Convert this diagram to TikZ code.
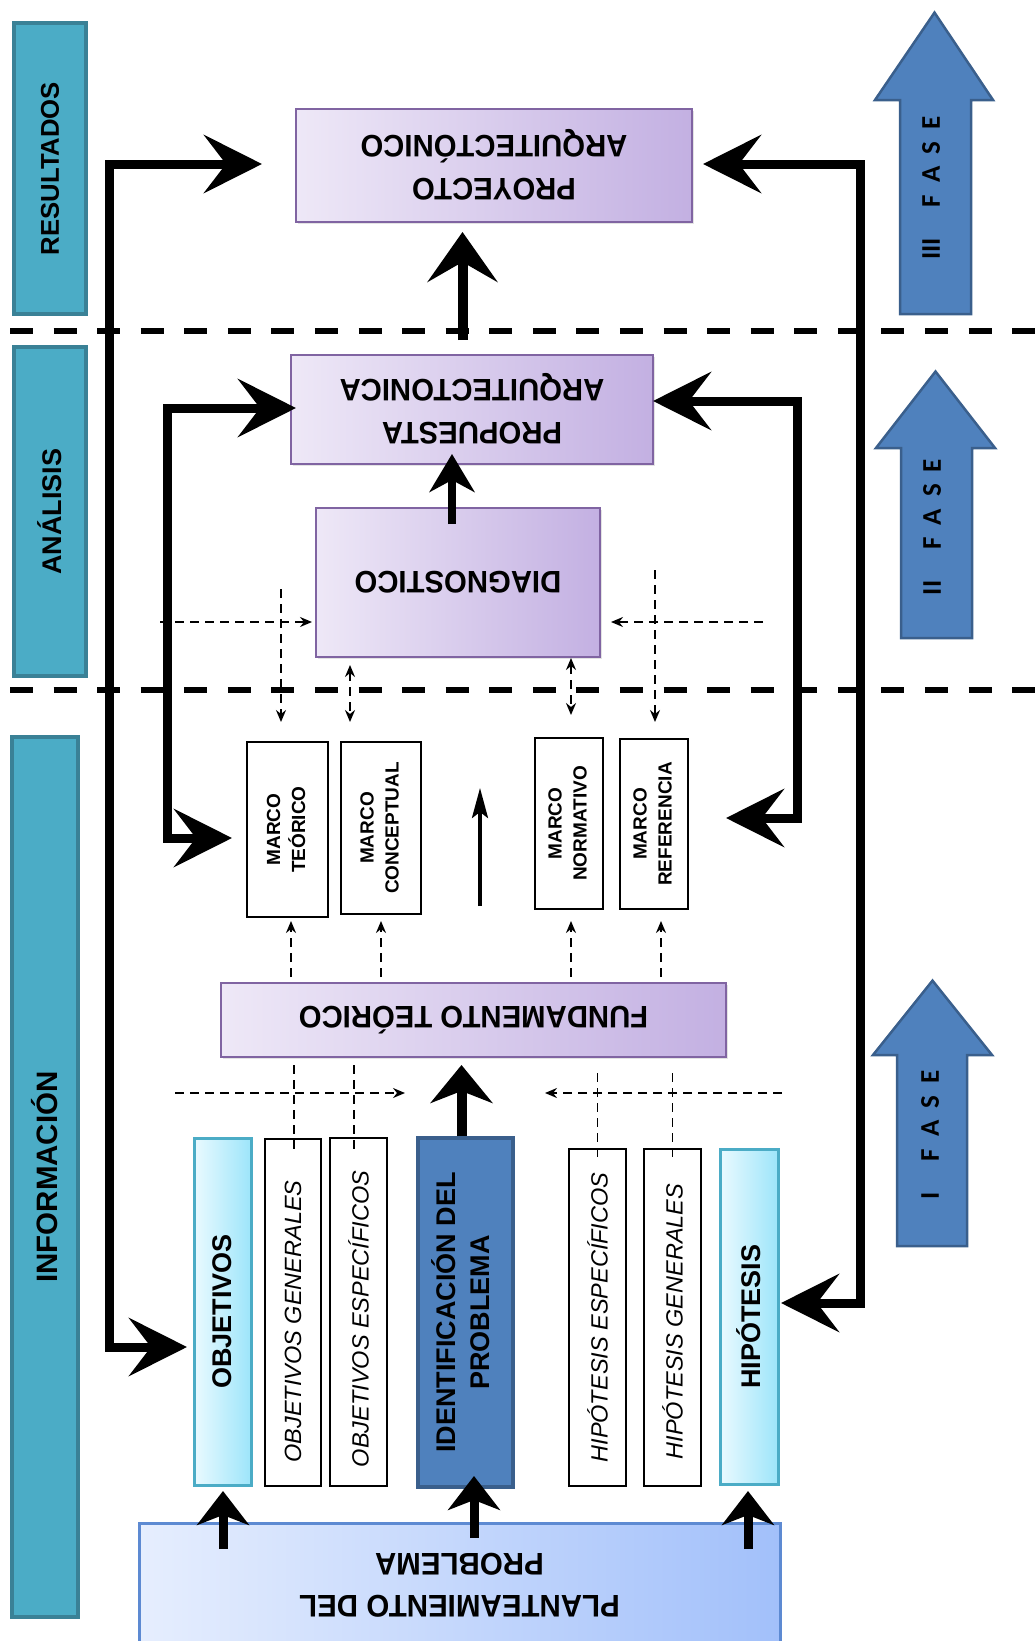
\documentclass[tikz,border=0pt]{standalone}
\usepackage{fontspec}
\setmainfont{Liberation Sans}
\newfontfamily\fasefont{Carlito}
\usetikzlibrary{arrows.meta,calc,shadows}
\definecolor{tealF}{HTML}{4BACC6}
\definecolor{tealB}{HTML}{3A8196}
\definecolor{faseF}{HTML}{4F81BD}
\definecolor{faseB}{HTML}{3A5F8C}
\definecolor{purpL}{HTML}{EEE8F7}
\definecolor{purpR}{HTML}{C3B0E2}
\definecolor{purpB}{HTML}{8064A2}
\definecolor{cyanL}{HTML}{EAFAFF}
\definecolor{cyanR}{HTML}{9DE5FA}
\definecolor{cyanB}{HTML}{4BACC6}
\definecolor{planL}{HTML}{E6EEFE}
\definecolor{planR}{HTML}{A2C0FA}
\definecolor{planB}{HTML}{5D8AD2}
\newcommand\rtwo[2]{\rotatebox{180}{\scalebox{1}[1.06]{\begin{tabular}{@{}c@{}}#1\\#2\end{tabular}}}}
\newcommand\vtwo[2]{\rotatebox{90}{\begin{tabular}{@{}c@{}}#1\\#2\end{tabular}}}
\newcommand\fasetxt[1]{\rotatebox{90}{\fasefont\bfseries\fontsize{27}{30}\selectfont #1\hspace{31pt}F\hspace{12pt}A\hspace{12pt}S\hspace{12pt}E}}
\tikzset{
  bigtip/.tip={Stealth[length=58pt,width=58pt,inset=22pt]},
  uptip/.tip={Stealth[length=50pt,width=70pt,inset=20pt]},
  medtip/.tip={Stealth[length=38pt,width=45pt,inset=12pt]},
  idtip/.tip={Stealth[length=38pt,width=62pt,inset=12pt]},
  pltip/.tip={Stealth[length=34pt,width=52pt,inset=10pt]},
  thintip/.tip={Stealth[length=30pt,width=16pt,inset=6pt]},
  smalltip/.tip={Stealth[length=12pt,width=10pt,inset=4pt]},
}
\begin{document}
\begin{tikzpicture}[x=1pt,y=-1pt,
  every node/.style={inner sep=0pt, outer sep=0pt},
  basebox/.style={anchor=north west, align=center, text=black},
  tealbox/.style={basebox, draw=tealB, fill=tealF, line width=3.5pt},
  purpbox/.style={basebox, draw=purpB, left color=purpL, right color=purpR, line width=2.8pt,
     drop shadow={opacity=0.22,shadow xshift=2pt,shadow yshift=-2pt},
     font=\bfseries\fontsize{29.3}{40}\selectfont},
  cyanbox/.style={basebox, draw=cyanB, left color=cyanL, right color=cyanR, line width=3pt,
     drop shadow={opacity=0.22,shadow xshift=2pt,shadow yshift=-2pt},
     font=\bfseries\fontsize{27}{34}\selectfont},
  whitebox/.style={basebox, draw=black, fill=white, line width=1.8pt},
  marcobox/.style={whitebox, font=\bfseries\fontsize{19}{25}\selectfont},
  itbox/.style={whitebox, font=\itshape\fontsize{23.5}{28}\selectfont},
  idbox/.style={basebox, draw=faseB, fill=faseF, line width=4pt,
     drop shadow={opacity=0.22,shadow xshift=2pt,shadow yshift=-2pt},
     font=\bfseries\fontsize{27}{34}\selectfont},
  planbox/.style={basebox, draw=planB, left color=planL, right color=planR, line width=3pt,
     font=\bfseries\fontsize{29.5}{40}\selectfont},
  fasearrow/.style={draw=faseB, fill=faseF, line width=2.5pt, line join=miter},
  sepline/.style={line width=6pt, dash pattern=on 23pt off 20.57pt},
  bigconn/.style={line width=9pt, line join=miter, arrows={bigtip-bigtip}},
  upthick/.style={line width=10pt, arrows={-uptip}},
  medarr/.style={line width=8pt, arrows={-medtip}},
  idarr/.style={line width=10pt, arrows={-idtip}},
  plarr/.style={line width=9pt, arrows={-pltip}},
  thinup/.style={line width=3.5pt, arrows={-thintip}},
  dashbase/.style={line width=1.8pt, dash pattern=on 9pt off 6pt},
  dasharr/.style={dashbase, arrows={-smalltip}},
  dashdbl/.style={dashbase, arrows={smalltip-smalltip}},
  dashln/.style={dashbase},
]
\useasboundingbox (0,0) rectangle (1035,1641);

% separators
\draw[sepline] (10,331) -- (1035,331);
\draw[sepline] (10,690) -- (1035,690);

% side labels
\node[tealbox, minimum width=72pt, minimum height=291pt] (res) at (14,23)
  {\rotatebox{90}{\bfseries\fontsize{25.7}{28}\selectfont RESULTADOS}};
\node[tealbox, minimum width=72pt, minimum height=329pt] (ana) at (14,347)
  {\rotatebox{90}{\bfseries\fontsize{27}{28}\selectfont ANÁLISIS}};
\node[tealbox, minimum width=66pt, minimum height=880pt] (inf) at (12,737)
  {\rotatebox{90}{\bfseries\fontsize{29.5}{30}\selectfont INFORMACIÓN}};

% phase arrows
\draw[fasearrow] (934.5,12.6) -- (993,100) -- (971,100) -- (971,314) -- (900,314) -- (900,100) -- (875,100) -- cycle;
\node (f3) at (931,188) {\fasetxt{III}};
\draw[fasearrow] (935.5,371.5) -- (995,448) -- (972,448) -- (972,638) -- (901,638) -- (901,448) -- (876,448) -- cycle;
\node (f2) at (932,527) {\fasetxt{II}};
\draw[fasearrow] (932.5,980.6) -- (992,1055) -- (967,1055) -- (967,1246) -- (897,1246) -- (897,1055) -- (873,1055) -- cycle;
\node (f1) at (930,1135) {\fasetxt{I}};

% purple boxes
\node[purpbox, minimum width=396pt, minimum height=113pt] (proy) at (296,109)
  {\rtwo{PROYECTO}{ARQUITECTÓNICO}};
\node[purpbox, minimum width=362pt, minimum height=109pt] (prop) at (291,355)
  {\rtwo{PROPUESTA}{ARQUITECTONICA}};
\node[purpbox, minimum width=284pt, minimum height=149pt] (diag) at (316,508)
  {\raisebox{5pt}{\rotatebox{180}{\scalebox{1}[1.06]{DIAGNOSTICO}}}};
\node[purpbox, minimum width=505pt, minimum height=74pt] (fund) at (221,983)
  {\rotatebox{180}{\scalebox{1}[1.06]{FUNDAMENTO TEÓRICO}}};

% marcos
\node[marcobox, minimum width=81pt, minimum height=175pt] (mt) at (247,742) {\vtwo{MARCO}{TEÓRICO}};
\node[marcobox, minimum width=80pt, minimum height=172pt] (mc) at (341,742) {\vtwo{MARCO}{CONCEPTUAL}};
\node[marcobox, minimum width=68pt, minimum height=171pt] (mn) at (535,738) {\vtwo{MARCO}{NORMATIVO}};
\node[marcobox, minimum width=68pt, minimum height=170pt] (mr) at (620,739) {\vtwo{MARCO}{REFERENCIA}};

% bottom row
\node[cyanbox, minimum width=57pt, minimum height=347pt] (obj) at (194,1138) {\rotatebox{90}{OBJETIVOS}};
\node[itbox, minimum width=56pt, minimum height=347pt] (og) at (265,1139) {\rotatebox{90}{OBJETIVOS GENERALES\hspace{18pt}}};
\node[itbox, minimum width=57pt, minimum height=348pt] (oe) at (330,1138) {\rotatebox{90}{OBJETIVOS ESPECÍFICOS\hspace{14pt}}};
\node[idbox, minimum width=95pt, minimum height=349pt] (idp) at (418,1138) {\vtwo{IDENTIFICACIÓN DEL}{PROBLEMA}};
\node[itbox, minimum width=57pt, minimum height=337pt] (he) at (569,1149) {\rotatebox{90}{HIPÓTESIS ESPECÍFICOS}};
\node[itbox, minimum width=57pt, minimum height=337pt] (hg) at (644,1149) {\rotatebox{90}{HIPÓTESIS GENERALES\hspace{8pt}}};
\node[cyanbox, minimum width=58pt, minimum height=335pt] (hip) at (720,1149) {\rotatebox{90}{HIPÓTESIS}};
\node[planbox, minimum width=641pt, minimum height=120pt] (plan) at (139,1523)
  {\rtwo{PLANTEAMIENTO DEL}{PROBLEMA}};

% big loop connectors
\coordinate (cLo) at (109,1347);
\draw[bigconn] ($(proy.west)+(-34,-1.5)$) -| (cLo) -- ($(obj.west)+(-7,35.5)$);
\coordinate (cRo) at (860,1303);
\draw[bigconn] ($(proy.east)+(11,-1.5)$) -| (cRo) -- ($(hip.east)+(3,-13.5)$);
\coordinate (cLi) at (167,838);
\draw[bigconn] ($(prop.west)+(5,-1.5)$) -| (cLi) -- ($(mt.west)+(-15,8.5)$);
\coordinate (cRi) at (797,818);
\draw[bigconn] ($(prop.east)+(0,-8.5)$) -| (cRi) -- ($(mr.east)+(38,-6)$);

% vertical thick arrows
\draw[upthick] ($(prop.north)+(-9.5,-15)$) -- ($(proy.south)+(-31.5,10)$);
\draw[medarr] ($(diag.north)+(-6,16)$) -- ($(prop.south)+(-20,-10)$);
\draw[idarr] ($(idp.north)+(-4,-2)$) -- ($(fund.south)+(-12,8)$);
\draw[plarr] ($(plan.north -| obj.south)+(0.5,26)$) -- ($(obj.south)+(0.5,6)$);
\draw[plarr] ($(plan.north -| idp.south)+(8.5,15)$) -- ($(idp.south)+(8.5,-11)$);
\draw[plarr] ($(plan.north -| hip.south)+(-1,26)$) -- ($(hip.south)+(-1,7)$);

% thin up arrow between marcos
\coordinate (ua1) at (480,906);
\coordinate (ua2) at (480,788);
\draw[thinup] (ua1) -- (ua2);

% dashed: fundamento -> marcos
\draw[dasharr] ($(fund.north -| mt.south)+(3.5,-6)$) -- ($(mt.south)+(3.5,4)$);
\draw[dasharr] ($(fund.north -| mc.south)+(0,-6)$) -- ($(mc.south)+(0,7)$);
\draw[dasharr] ($(fund.north -| mn.south)+(2,-6)$) -- ($(mn.south)+(2,12)$);
\draw[dasharr] ($(fund.north -| mr.south)+(7,-6)$) -- ($(mr.south)+(7,12)$);

% dashed: diagnostico area -> marcos
\coordinate (d1) at (281,589);
\draw[dasharr] (d1) -- ($(mt.north)+(-6.5,-20)$);
\draw[dashdbl] ($(diag.south)+(-108,8)$) -- ($(mc.north)+(-31,-20)$);
\draw[dashdbl] ($(diag.south)+(113,1)$) -- ($(mn.north)+(2,-23)$);
\coordinate (d2) at (655,570);
\draw[dasharr] (d2) -- ($(mr.north)+(1,-17)$);
\coordinate (h1) at (160,622);
\draw[dasharr] (h1) -- ($(diag.west)+(-4,39.5)$);
\coordinate (h2) at (763,622);
\draw[dasharr] (h2) -- ($(diag.east)+(11,39.5)$);

% dashed: objetivos / hipotesis
\coordinate (h3) at (175,1093);
\coordinate (h4) at (405,1093);
\draw[dasharr] (h3) -- (h4);
\coordinate (h5) at (782,1093);
\coordinate (h6) at (545,1093);
\draw[dasharr] (h5) -- (h6);
\draw[dashln] ($(fund.south -| og.north)+(1,8)$) -- ($(og.north)+(1,11)$);
\draw[dashln] ($(fund.south -| oe.north)+(-4.5,8)$) -- ($(oe.north)+(-4.5,12)$);
\draw[dashln] ($(fund.south -| he.north)+(0,16)$) -- ($(he.north)+(0,9)$);
\draw[dashln] ($(fund.south -| hg.north)+(0,16)$) -- ($(hg.north)+(0,9)$);
\end{tikzpicture}
\end{document}
